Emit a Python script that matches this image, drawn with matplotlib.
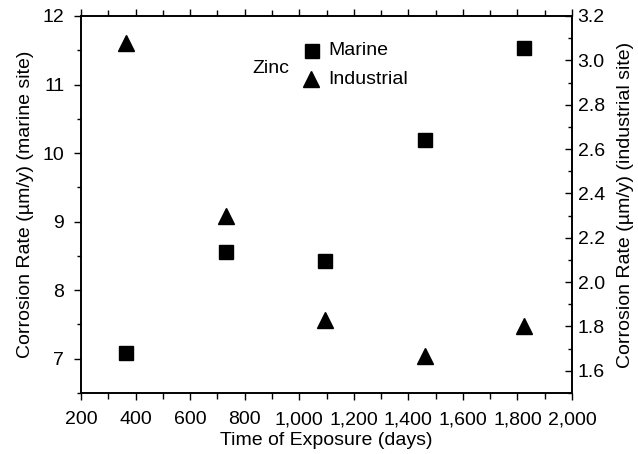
import matplotlib
matplotlib.use("Agg")
import matplotlib.pyplot as plt
from matplotlib.ticker import MultipleLocator, FuncFormatter

plt.rcParams['font.family'] = ['Liberation Sans', 'DejaVu Sans']

days = [365, 730, 1095, 1460, 1825]
marine = [7.09, 8.55, 8.43, 10.19, 11.53]
industrial = [3.08, 2.30, 1.83, 1.665, 1.80]

fig = plt.figure(figsize=(6.38, 4.54), dpi=100)
ax = fig.add_axes([0.127, 0.1344, 0.7696, 0.8304])
ax2 = ax.twinx()

ax.plot(days, marine, linestyle='none', marker='s', markersize=9.5, color='black')
ax2.plot(days, industrial, linestyle='none', marker='^', markersize=11.5, color='black')

ax.set_xlim(200, 2000)
ax.set_ylim(6.5, 12)
ax2.set_ylim(1.5, 3.2)

ax.xaxis.set_major_locator(MultipleLocator(200))
ax.xaxis.set_minor_locator(MultipleLocator(100))
ax.xaxis.set_major_formatter(FuncFormatter(lambda v, p: f"{int(v):,}"))
ax.yaxis.set_major_locator(MultipleLocator(1))
ax.yaxis.set_minor_locator(MultipleLocator(0.5))
ax2.yaxis.set_major_locator(MultipleLocator(0.2))
ax2.yaxis.set_minor_locator(MultipleLocator(0.1))
ax2.yaxis.set_major_formatter(FuncFormatter(lambda v, p: f"{v:.1f}"))

fs = 14
ax.tick_params(axis='x', which='both', direction='out', top=True, labelsize=fs, width=1, pad=8)
ax.tick_params(axis='x', which='major', length=5)
ax.tick_params(axis='x', which='minor', length=4)
ax.tick_params(axis='y', which='both', direction='out', labelsize=fs, width=1, pad=7)
ax.tick_params(axis='y', which='major', length=5)
ax.tick_params(axis='y', which='minor', length=3)
ax2.tick_params(axis='y', which='both', direction='in', labelsize=fs, width=1, pad=4)
ax2.tick_params(axis='y', which='major', length=5)
ax2.tick_params(axis='y', which='minor', length=3)
for s in ax.spines.values():
    s.set_linewidth(1.2)
for s in ax2.spines.values():
    s.set_linewidth(1.2)

ax.set_xlabel('Time of Exposure (days)', fontsize=fs, labelpad=3)
ax.set_ylabel('Corrosion Rate (µm/y) (marine site)', fontsize=fs, labelpad=6)
ax2.set_ylabel('Corrosion Rate (µm/y) (industrial site)', fontsize=fs, labelpad=9)

# legend drawn manually in axes-fraction coordinates
ax.text(0.348, 0.862, 'Zinc', transform=ax.transAxes, fontsize=14, va='center', ha='left')
ax.plot([0.4695], [0.908], transform=ax.transAxes, marker='s', markersize=9.5, color='black', linestyle='none', clip_on=False)
ax.plot([0.468], [0.832], transform=ax.transAxes, marker='^', markersize=11.5, color='black', linestyle='none', clip_on=False)
ax.text(0.503, 0.908, 'Marine', transform=ax.transAxes, fontsize=14, va='center', ha='left')
ax.text(0.503, 0.832, 'Industrial', transform=ax.transAxes, fontsize=14, va='center', ha='left')

fig.savefig('out.png', dpi=100)
